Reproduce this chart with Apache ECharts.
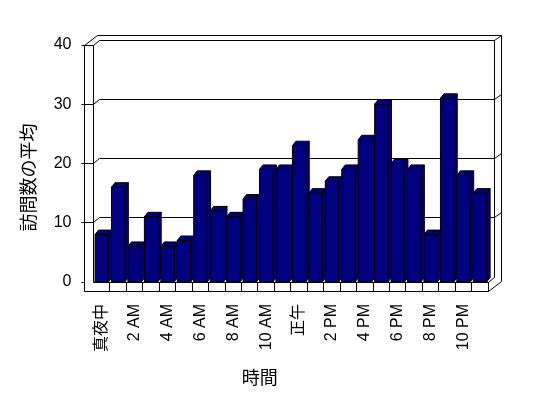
<!DOCTYPE html>
<html><head><meta charset="utf-8">
<script src="https://cdn.jsdelivr.net/npm/echarts/dist/echarts.min.js"></script>
<style>html,body{margin:0;padding:0;background:#fff}#c{width:548px;height:398px}</style>
</head><body><div id="c"></div>
<script>
const hours = ['真夜中','1 AM','2 AM','3 AM','4 AM','5 AM','6 AM','7 AM','8 AM','9 AM','10 AM','11 AM',
               '正午','1 PM','2 PM','3 PM','4 PM','5 PM','6 PM','7 PM','8 PM','9 PM','10 PM','11 PM'];
const visits = [8,16,6,11,6,7,18,12,11,14,19,19,23,15,17,19,24,30,20,19,8,31,18,15];
const yTicks = [0,10,20,30,40];
const yTitle = '訪問数の平均';
const xTitle = '時間';

const FONT = "'Liberation Sans','Noto Sans CJK JP',sans-serif";
const h = v => Math.round(v - 0.5) + 0.5;

function renderFrame(params, api) {
  const cs = params.coordSys;
  const gx = cs.x, gy = cs.y, gw = cs.width, gh = cs.height;
  const right = gx + gw, bottom = gy + gh;
  const WX = 8.6, FH = 9.7, DX = 6.4, DY = -5;
  const st = {stroke:'#000', lineWidth:1, fill:null};
  const ch = [];
  const P = (x, y) => [h(x), h(y)];
  const line = pts => ch.push({type:'polyline', shape:{points:pts.map(p => P(p[0], p[1]))}, style:st});
  // outer outline
  line([[gx-WX, bottom+FH],[gx-WX, gy],[gx-WX+2*DX, gy+2*DY],[right+2*DX, gy+2*DY],
        [right+2*DX, bottom+FH+2*DY],[right, bottom+FH],[gx-WX, bottom+FH]]);
  // inner outline
  line([[gx, bottom],[gx, gy],[gx+DX, gy+DY],[right+DX, gy+DY],[right+DX, bottom+DY],[right, bottom],[gx, bottom]]);
  line([[gx-WX, gy],[gx, gy]]);
  line([[right, bottom],[right, bottom+FH]]);
  line([[right+DX, gy+DY],[right+2*DX, gy+2*DY]]);
  // gridlines
  yTicks.forEach(v => {
    const y = api.coord([0, v])[1];
    line([[gx-WX-3, y],[gx-WX, y]]);
    if (v > 0 && v < 40) {
      line([[gx-WX, y],[gx, y],[gx+DX, y+DY],[right+DX, y+DY],[right+2*DX, y+2*DY]]);
    }
  });
  // floor dividers
  for (let k = 1; k < hours.length; k++) {
    const x = gx + k * gw / hours.length;
    line([[x, bottom],[x, bottom+FH]]);
  }
  return {type:'group', children: ch};
}

function renderBar(params, api) {
  const c = api.coord([api.value(0), api.value(1)]);
  const b = api.coord([api.value(0), 0]);
  const band = api.size([1, 0])[0];
  const w = band * 0.81;
  const l = c[0] - w/2, r = c[0] + w/2, t = c[1], bt = b[1];
  const dx = 3.5, dy = -4.5;
  const st = {fill:'#000080', stroke:'#000', lineWidth:1};
  return {type:'group', children:[
    {type:'polygon', shape:{points:[[r,t],[r+dx,t+dy],[r+dx,bt+dy],[r,bt]]}, style:st},
    {type:'polygon', shape:{points:[[l,t],[l+dx,t+dy],[r+dx,t+dy],[r,t]]}, style:st},
    {type:'rect', shape:{x:l, y:t, width:w, height:bt-t}, style:st}
  ]};
}

const chart = echarts.init(document.getElementById('c'), null, {renderer:'canvas'});
chart.setOption({
  animation:false,
  backgroundColor:'#fff',
  textStyle:{fontFamily:FONT},
  grid:{left:93.5, right:59.8, top:45, bottom:116, containLabel:false},
  xAxis:{
    type:'category', data:hours,
    name:xTitle, nameLocation:'middle', nameGap:88,
    nameTextStyle:{fontSize:18, color:'#000', fontFamily:FONT, padding:[0,62,0,0]},
    axisLine:{show:false}, axisTick:{show:false},
    axisLabel:{interval:1, rotate:90, margin:22, fontSize:16, color:'#000', fontFamily:FONT}
  },
  yAxis:{
    type:'value', min:0, max:40, interval:10,
    name:yTitle, nameLocation:'middle', nameGap:54, nameRotate:90,
    nameTextStyle:{fontSize:18, color:'#000', fontFamily:FONT, padding:[0,28,0,0]},
    axisLine:{show:false}, axisTick:{show:false}, splitLine:{show:false},
    axisLabel:{margin:22, fontSize:16, color:'#000', fontFamily:FONT}
  },
  series:[
    {type:'custom', renderItem:renderFrame, data:[[0,0]], clip:false, silent:true, z:1},
    {type:'custom', renderItem:renderBar, data:visits.map((v,i)=>[i,v]), encode:{x:0,y:1}, clip:false, z:2}
  ]
});
</script>
</body></html>
